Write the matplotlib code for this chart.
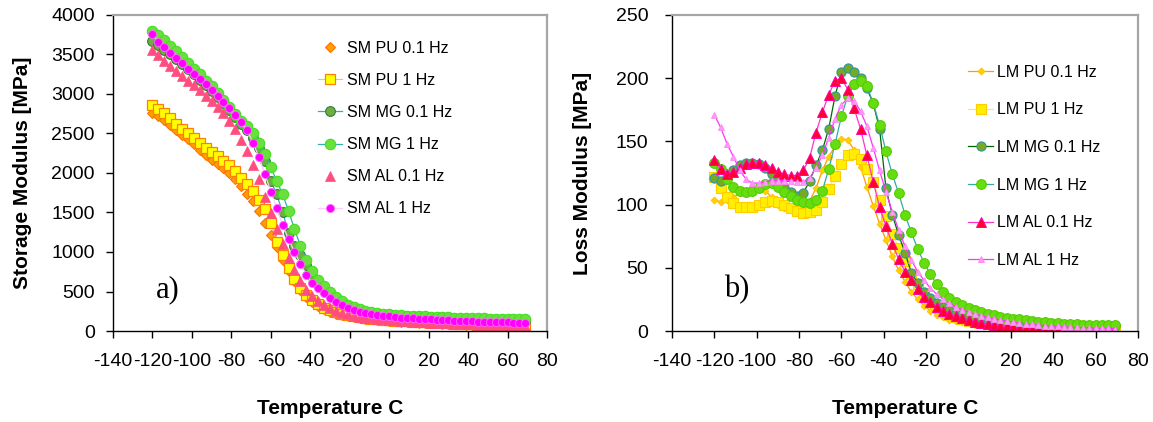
import matplotlib.pyplot as plt

plt.rcParams['font.family'] = ['Liberation Sans', 'DejaVu Sans']
plt.rcParams['axes.unicode_minus'] = False

temp = [-120, -117, -114, -111, -108, -105, -102, -99,
        -96, -93, -90, -87, -84, -81, -78, -75,
        -72, -69, -66, -63, -60, -57, -54, -51,
        -48, -45, -42, -39, -36, -33, -30, -27,
        -24, -21, -18, -15, -12, -9, -6, -3,
        0, 3, 6, 9, 12, 15, 18, 21,
        24, 27, 30, 33, 36, 39, 42, 45,
        48, 51, 54, 57, 60, 63, 66, 69]

# storage modulus [MPa]
sm_pu_01 = [2765, 2725, 2675, 2610, 2545, 2485, 2435, 2365,
            2290, 2230, 2170, 2115, 2060, 2000, 1920, 1830,
            1740, 1640, 1520, 1370, 1220, 1060, 900, 760,
            630, 520, 430, 365, 315, 275, 245, 220,
            200, 185, 172, 162, 153, 146, 140, 134,
            128, 123, 118, 114, 110, 106, 102, 99,
            96, 93, 90, 87, 84, 81, 78, 76,
            74, 72, 70, 68, 66, 64, 62, 60]
sm_pu_1 = [2860, 2815, 2760, 2690, 2615, 2560, 2500, 2440,
           2375, 2315, 2260, 2210, 2155, 2095, 2020, 1940,
           1860, 1770, 1660, 1550, 1370, 1130, 960, 800,
           660, 550, 460, 390, 336, 294, 262, 236,
           215, 198, 185, 174, 165, 157, 150, 144,
           138, 132, 127, 122, 118, 114, 110, 106,
           102, 99, 96, 93, 90, 87, 84, 81,
           79, 77, 75, 73, 71, 69, 67, 65]
sm_mg_01 = [3670, 3620, 3560, 3500, 3440, 3380, 3310, 3250,
            3180, 3110, 3040, 2960, 2880, 2800, 2710, 2620,
            2540, 2440, 2310, 2150, 1900, 1730, 1500, 1240,
            1080, 960, 830, 700, 600, 520, 455, 400,
            355, 315, 285, 262, 243, 228, 216, 207,
            200, 194, 189, 184, 180, 176, 172, 169,
            166, 163, 160, 157, 154, 151, 149, 147,
            145, 143, 141, 139, 137, 135, 133, 131]
sm_mg_1 = [3800, 3740, 3680, 3610, 3540, 3470, 3390, 3320,
           3250, 3170, 3100, 3010, 2925, 2840, 2750, 2660,
           2590, 2500, 2380, 2240, 2070, 1900, 1730, 1520,
           1290, 1080, 900, 760, 650, 570, 495, 430,
           378, 335, 300, 275, 255, 240, 228, 219,
           212, 206, 201, 196, 192, 188, 184, 181,
           178, 175, 172, 170, 168, 166, 164, 162,
           160, 158, 156, 154, 152, 150, 148, 146]
sm_al_01 = [3560, 3490, 3420, 3360, 3290, 3230, 3170, 3110,
            3050, 2980, 2910, 2840, 2760, 2660, 2560, 2420,
            2280, 2100, 1920, 1700, 1490, 1290, 1100, 920,
            770, 630, 520, 440, 380, 330, 290, 258,
            232, 212, 196, 182, 171, 162, 154, 147,
            141, 135, 130, 125, 120, 115, 111, 107,
            103, 99, 96, 93, 90, 87, 84, 81,
            78, 76, 74, 72, 70, 68, 66, 64]
sm_al_1 = [3760, 3660, 3590, 3520, 3460, 3390, 3320, 3250,
           3190, 3120, 3050, 2980, 2900, 2820, 2730, 2640,
           2540, 2380, 2200, 1990, 1760, 1560, 1340, 1160,
           1000, 850, 710, 610, 545, 475, 415, 370,
           325, 292, 266, 246, 229, 215, 203, 193,
           184, 177, 171, 165, 160, 155, 150, 146,
           142, 138, 134, 131, 128, 125, 122, 119,
           116, 114, 112, 110, 108, 106, 104, 102]

# loss modulus [MPa]
lm_pu_01 = [104, 102, 104, 106, 109, 111, 113, 113,
            111, 106, 100, 97, 96, 94, 97, 103,
            113, 127, 138, 146, 152, 151, 143, 130,
            114, 99, 85, 72, 59, 48, 39, 31,
            25, 20, 16, 13, 11, 9, 8, 7,
            6, 5, 4.5, 4, 3.5, 3, 2.6, 2.2,
            2, 1.8, 1.6, 1.5, 1.4, 1.3, 1.2, 1.1,
            1.1, 1.0, 1.0, 0.9, 0.9, 0.8, 0.8, 0.8]
lm_pu_1 = [122, 113, 106, 101, 98, 98, 98, 100,
           102, 103, 102, 100, 97, 95, 93, 94,
           96, 102, 112, 123, 132, 139, 140, 136,
           128, 118, 104, 91, 77, 66, 55, 45,
           37, 30, 24, 19, 16, 13, 11, 9.5,
           8, 7, 6, 5.3, 4.7, 4.2, 3.8, 3.4,
           3.1, 2.8, 2.6, 2.4, 2.2, 2.1, 2.0, 1.9,
           1.8, 1.7, 1.7, 1.6, 1.6, 1.5, 1.5, 1.5]
lm_mg_01 = [121, 119, 122, 127, 131, 133, 133, 132,
            129, 124, 119, 114, 110, 107, 109, 119,
            131, 143, 160, 186, 205, 208, 205, 200,
            192, 180, 160, 113, 92, 76, 62, 46,
            38, 31, 26, 22, 19, 16.5, 14.5, 13,
            12, 11, 10, 9, 8.3, 7.6, 7, 6.5,
            6.1, 5.8, 5.5, 5.3, 5.1, 4.9, 4.7, 4.6,
            4.5, 4.4, 4.3, 4.2, 4.1, 4, 4, 4]
lm_mg_1 = [133, 128, 120, 114, 111, 110, 111, 113,
           116, 117, 114, 110, 107, 104, 102, 101,
           104, 111, 128, 148, 170, 186, 195, 198,
           194, 180, 163, 142, 124, 109, 92, 78,
           65, 54, 45, 37, 31, 26, 23, 20.5,
           18.5, 16.5, 15, 13.5, 12.3, 11.3, 10.5, 9.8,
           9.2, 8.6, 8, 7.5, 7, 6.6, 6.2, 5.9,
           5.6, 5.3, 5.1, 4.9, 4.7, 4.6, 4.5, 4.4]
lm_al_01 = [135, 128, 124, 126, 129, 132, 133, 133,
            131, 129, 126, 124, 123, 123, 127, 137,
            157, 173, 187, 198, 200, 191, 176, 160,
            139, 118, 98, 83, 69, 57, 47, 40,
            33, 27, 23, 19, 16, 13.5, 11.5, 10,
            9, 7.5, 6.5, 5.5, 4.8, 4.2, 3.6, 3,
            2.5, 2.1, 1.8, 1.5, 1.2, 1.0, 0.8, 0.7,
            0.6, 0.5, 0.4, 0.3, 0.3, 0.2, 0.2, 0.2]
lm_al_1 = [171, 161, 148, 138, 127, 120, 117, 117,
           118, 119, 119, 119, 119, 118, 118, 121,
           129, 139, 153, 168, 179, 184, 182, 174,
           162, 145, 127, 110, 94, 80, 67, 56,
           47, 40, 34, 29, 25, 22, 19, 17,
           15, 13.5, 12, 10.8, 9.7, 8.7, 7.8, 7,
           6.3, 5.7, 5.2, 4.7, 4.3, 3.9, 3.6, 3.3,
           3, 2.8, 2.6, 2.4, 2.2, 2.1, 2, 1.9]

x_ticks = [-140, -120, -100, -80, -60, -40, -20, 0, 20, 40, 60, 80]

fig = plt.figure(figsize=(11.53, 4.22), dpi=100)
ax1 = fig.add_axes([0.098, 0.2156, 0.3764, 0.749])
ax2 = fig.add_axes([0.5828, 0.2156, 0.4042, 0.749])

# panel a
ax1.plot(temp, sm_pu_01, ls='none', marker='D', ms=4.8, mfc='#FFA000', mec='#FF7000',
         mew=0.8, label='SM PU 0.1 Hz')
ax1.plot(temp, sm_pu_1, color='#FFC04D', lw=0.8, marker='s', ms=6.8, mfc='#FFFF00',
         mec='#FF8000', mew=0.9, label='SM PU 1 Hz')
ax1.plot(temp, sm_mg_01, color='#33AFAF', lw=0.9, marker='o', ms=7, mfc='#70AD47',
         mec='#2E7D32', mew=0.8, label='SM MG 0.1 Hz')
ax1.plot(temp, sm_mg_1, color='#33AFAF', lw=0.9, marker='o', ms=7.5, mfc='#6BE03C',
         mec='#40E020', mew=0.8, label='SM MG 1 Hz')
ax1.plot(temp, sm_al_01, ls='none', marker='^', ms=7, mfc='#FF4D80', mec='#FF4D80',
         mew=0.5, label='SM AL 0.1 Hz')
ax1.plot(temp, sm_al_1, color='#FFCCFF', lw=0.9, marker='o', ms=5.8, mfc='#FF00FF',
         mec='#FF66FF', mew=0.6, label='SM AL 1 Hz')

# panel b
ax2.plot(temp, lm_pu_01, color='#FF9900', lw=0.9, marker='D', ms=3.5, mfc='#FFD000',
         mec='#FFC000', mew=0.6, label='LM PU 0.1 Hz')
ax2.plot(temp, lm_pu_1, color='#FFE08A', lw=0.9, marker='s', ms=6.5, mfc='#FFEE00',
         mec='#FFCC00', mew=0.8, label='LM PU 1 Hz')
ax2.plot(temp, lm_mg_01, color='#006600', lw=0.9, marker='o', ms=6.5, mfc='#77AA22',
         mec='#339999', mew=0.9, label='LM MG 0.1 Hz')
ax2.plot(temp, lm_mg_1, color='#33AAAA', lw=0.9, marker='o', ms=7, mfc='#66DD11',
         mec='#55CC00', mew=0.8, label='LM MG 1 Hz')
ax2.plot(temp, lm_al_01, color='#FF33CC', lw=0.9, marker='^', ms=6.5, mfc='#FF0033',
         mec='#FF00AA', mew=0.7, label='LM AL 0.1 Hz')
ax2.plot(temp, lm_al_1, color='#FF33FF', lw=0.9, marker='^', ms=5, mfc='#FF99FF',
         mec='#FF88EE', mew=0.6, label='LM AL 1 Hz')

for ax in (ax1, ax2):
    ax.set_xlim(-140, 80)
    ax.set_xticks(x_ticks)
    ax.set_xlabel('Temperature C', fontsize=15, fontweight='bold', labelpad=21)
    ax.tick_params(axis='x', direction='out', length=5, width=1, pad=11, labelsize=14)
    ax.tick_params(axis='y', direction='out', length=5, width=1, labelsize=14)
    for side in ('left', 'bottom'):
        ax.spines[side].set_color('black')
        ax.spines[side].set_linewidth(1)
    for side in ('top', 'right'):
        ax.spines[side].set_color('#A6A6A6')
        ax.spines[side].set_linewidth(1.6)

ax1.set_ylim(0, 4000)
ax1.set_yticks(range(0, 4001, 500))
ax1.tick_params(axis='y', pad=8)
ax1.set_ylabel('Storage Modulus [MPa]', fontsize=15, fontweight='bold', labelpad=14)

ax2.set_ylim(0, 250)
ax2.set_yticks(range(0, 251, 50))
ax2.tick_params(axis='y', pad=12)
ax2.set_ylabel('Loss Modulus [MPa]', fontsize=15, fontweight='bold', labelpad=17)

ax1.legend(loc='upper left', bbox_to_anchor=(0.472, 0.918), frameon=False, fontsize=11.5,
           handlelength=1.5, handletextpad=0.3, labelspacing=1.07, borderpad=0,
           borderaxespad=0)
ax2.legend(loc='upper left', bbox_to_anchor=(0.635, 0.843), frameon=False, fontsize=11.5,
           handlelength=1.6, handletextpad=0.2, labelspacing=1.42, borderpad=0,
           borderaxespad=0)

ax1.text(0.127, 0.13, 'a)', transform=ax1.transAxes, ha='center', va='center',
         fontsize=22, family=['Liberation Serif', 'DejaVu Serif'])
ax2.text(0.139, 0.13, 'b)', transform=ax2.transAxes, ha='center', va='center',
         fontsize=22, family=['Liberation Serif', 'DejaVu Serif'])

fig.savefig('out.png', dpi=100)
